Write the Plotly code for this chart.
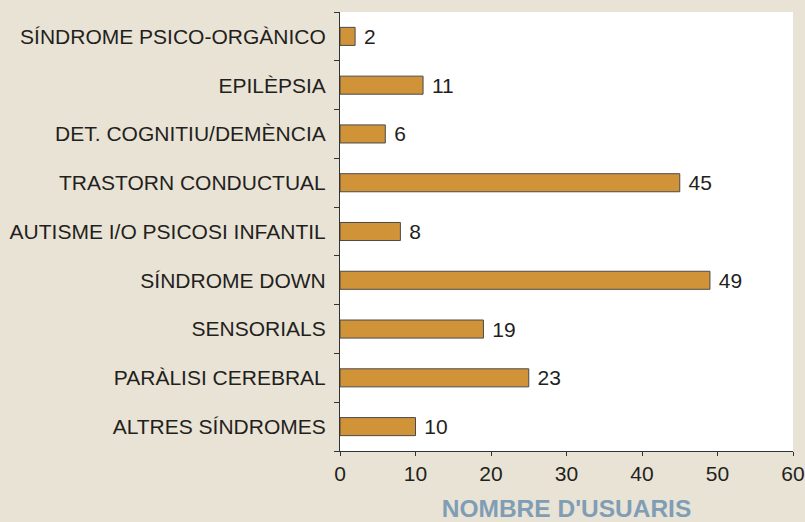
import plotly.graph_objects as go

categories = [
    "SÍNDROME PSICO-ORGÀNICO",
    "EPILÈPSIA",
    "DET. COGNITIU/DEMÈNCIA",
    "TRASTORN CONDUCTUAL",
    "AUTISME I/O PSICOSI INFANTIL",
    "SÍNDROME DOWN",
    "SENSORIALS",
    "PARÀLISI CEREBRAL",
    "ALTRES SÍNDROMES",
]
# bar lengths as drawn in the picture
values = [2, 11, 6, 45, 8, 49, 19, 25, 10]
# numbers printed beside the bars
value_labels = ["2", "11", "6", "45", "8", "49", "19", "23", "10"]
x_ticks = [0, 10, 20, 30, 40, 50, 60]

FONT = "Liberation Sans, Arial, sans-serif"
FS = 21

fig = go.Figure(
    go.Bar(
        x=values,
        y=categories,
        orientation="h",
        text=value_labels,
        texttemplate="\u00a0%{text}",
        textposition="outside",
        constraintext="none",
        cliponaxis=False,
        textfont=dict(family=FONT, size=FS, color="#231f20"),
        marker=dict(color="#d09338", line=dict(color="#4a4a4a", width=1)),
        hoverinfo="skip",
    )
)

fig.update_layout(
    width=805,
    height=522,
    paper_bgcolor="#e9e3d5",
    plot_bgcolor="#ffffff",
    margin=dict(l=340, r=12, t=12, b=71, autoexpand=False),
    bargap=0.63,
    showlegend=False,
    font=dict(family=FONT, size=FS, color="#231f20"),
)

fig.update_xaxes(
    range=[0, 60],
    tickvals=x_ticks,
    ticks="outside",
    ticklen=4,
    tickcolor="#333",
    showline=True,
    linecolor="#333",
    linewidth=1,
    showgrid=False,
    zeroline=False,
    automargin=False,
    tickfont=dict(family=FONT, size=FS, color="#231f20"),
    title=dict(
        text="<b>NOMBRE D'USUARIS</b>",
        font=dict(family=FONT, size=24.5, color="#7f9db5"),
        standoff=19,
    ),
)

fig.update_yaxes(
    categoryorder="array",
    categoryarray=categories[::-1],
    ticks="outside",
    ticklen=5,
    tickcolor="#333",
    tickson="boundaries",
    showline=True,
    linecolor="#333",
    linewidth=1,
    showgrid=False,
    zeroline=False,
    automargin=False,
    ticklabelstandoff=9,
    tickfont=dict(family=FONT, size=FS, color="#231f20"),
)

fig.write_html(
    "out.html",
    config={"displayModeBar": False},
    post_script="document.body.style.margin='0';document.body.style.overflow='hidden';",
)
